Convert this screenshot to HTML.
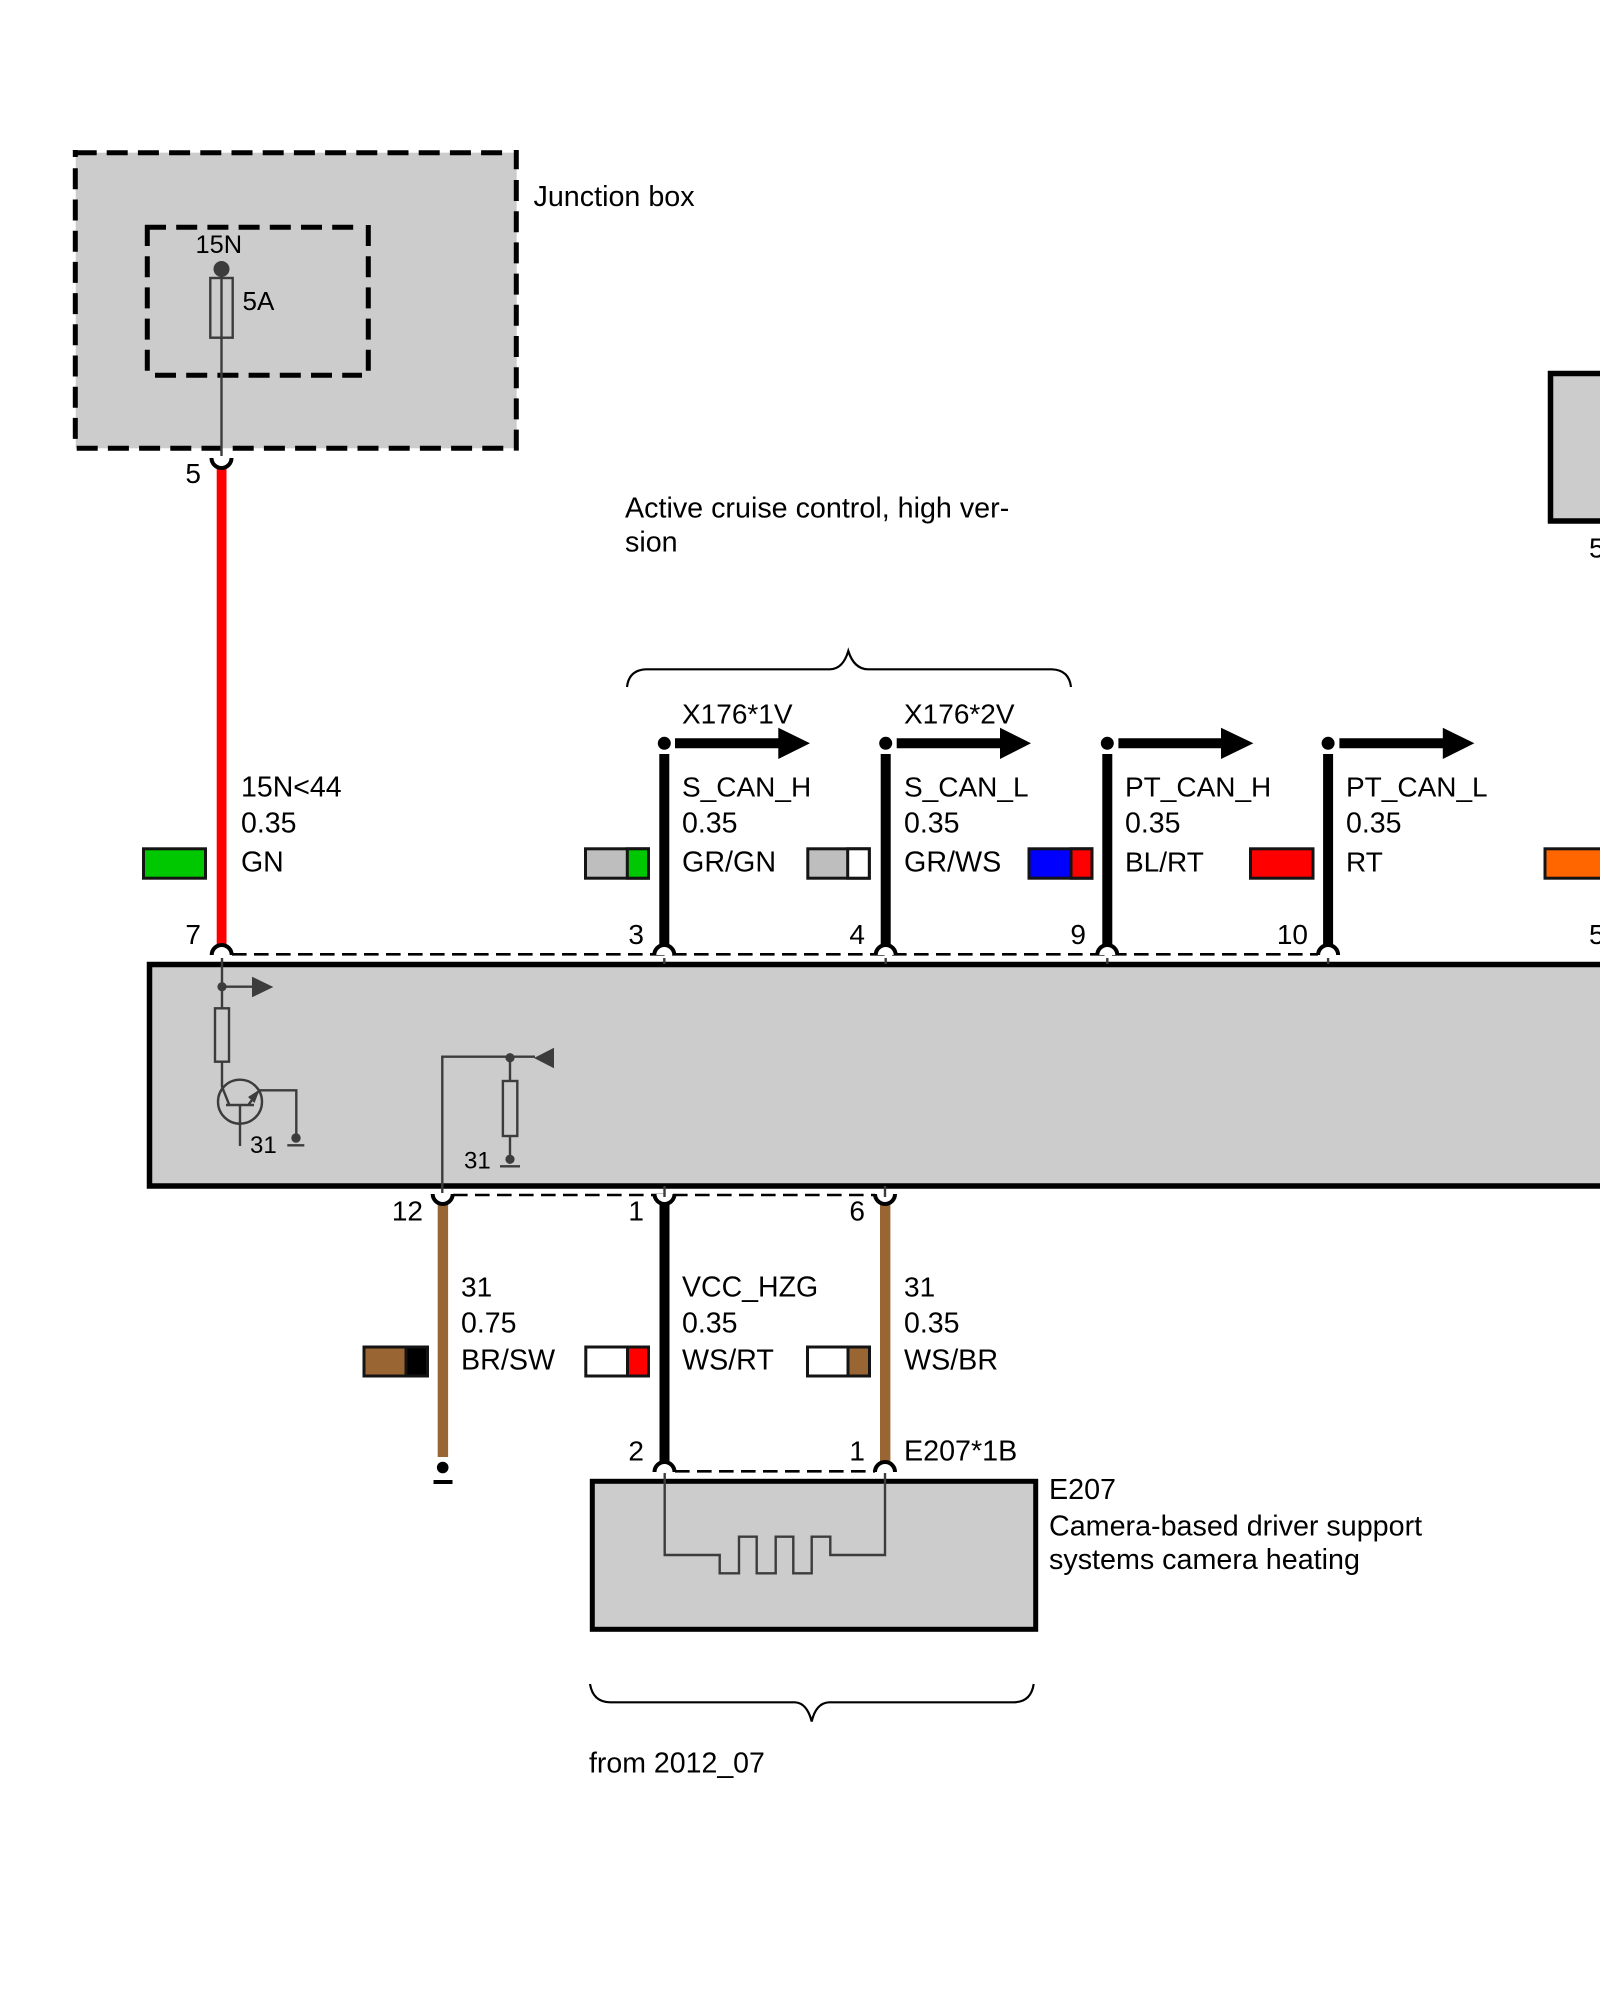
<!DOCTYPE html>
<html><head><meta charset="utf-8"><style>
html,body{margin:0;padding:0;background:#fff;width:1600px;height:2000px;overflow:hidden}
svg{display:block}
text{font-family:"Liberation Sans",sans-serif;font-size:28.5px;fill:#000}
.c{font-size:28px}
.l{font-size:28.7px}
.d{stroke:#3c3c3c;stroke-width:2.4;fill:none}
.dd{fill:#3c3c3c}
.k{stroke:#000;fill:none}
.sw{stroke:#141414;stroke-width:3}
.j{stroke:#000;stroke-width:5;fill:none;stroke-dasharray:21 10.2}
</style></head><body>
<svg width="1600" height="2000" viewBox="0 0 1600 2000" xmlns="http://www.w3.org/2000/svg">
<!-- boxes -->
<rect x="75.7" y="152.7" width="441" height="295.6" fill="#ccc"/>
<rect x="149.5" y="964.5" width="1470" height="221.5" fill="#ccc" stroke="#000" stroke-width="5.5"/>
<rect x="1550.5" y="373.5" width="70" height="147.5" fill="#ccc" stroke="#000" stroke-width="5.5"/>
<rect x="592.3" y="1481.3" width="443.4" height="148" fill="#ccc" stroke="#000" stroke-width="5"/>
<!-- junction box dashes -->
<path d="M75.3 157V150M72.8 152.7H96.7M516.3 150V169.3" stroke="#000" stroke-width="5" fill="none"/>
<path class="j" d="M106.7 152.7H503"/>
<path class="j" d="M75.3 168.3V439"/>
<path class="j" d="M76.7 448.3H504"/>
<path class="j" d="M516.3 180V451"/>
<path class="j" d="M145 227.3H357"/>
<path class="j" d="M147.3 225V372"/>
<path class="j" d="M155 375.3H362"/>
<path class="j" d="M368.3 225V371"/>
<!-- fuse -->
<path class="d" d="M221.5 269V456"/>
<circle class="dd" cx="221.5" cy="269" r="8"/>
<rect class="d" x="210.3" y="278" width="22.4" height="59.7"/>
<!-- wires -->
<rect x="216.7" y="465" width="9.8" height="482" fill="#f00"/>
<rect x="659.3" y="754" width="10" height="194" fill="#000"/>
<rect x="880.7" y="754" width="10" height="194" fill="#000"/>
<rect x="1102.3" y="754" width="10" height="194" fill="#000"/>
<rect x="1323.1" y="754" width="10" height="194" fill="#000"/>
<rect x="437.7" y="1202" width="10.4" height="255" fill="#996633"/>
<rect x="659.5" y="1202" width="10" height="262" fill="#000"/>
<rect x="880" y="1202" width="10.4" height="262" fill="#996633"/>
<!-- dashed connector lines -->
<path d="M232 954.3H1318" stroke="#000" stroke-width="2.6" fill="none" stroke-dasharray="14.6 7.4"/>
<path d="M453 1195H875" stroke="#000" stroke-width="2.6" fill="none" stroke-dasharray="14.6 7.4"/>
<path d="M675 1471.3H875" stroke="#000" stroke-width="2.6" fill="none" stroke-dasharray="14.6 7.4"/>
<!-- pin arcs -->
<g stroke="#000" stroke-width="4" fill="#fff">
<path d="M211.5 458A10 10 0 0 0 231.5 458"/>
<path d="M211.7 955A10 10 0 0 1 231.7 955"/>
<path d="M654.3 955A10 10 0 0 1 674.3 955"/>
<path d="M875.7 955A10 10 0 0 1 895.7 955"/>
<path d="M1097.3 955A10 10 0 0 1 1117.3 955"/>
<path d="M1318.1 955A10 10 0 0 1 1338.1 955"/>
<path d="M432.7 1194A10 10 0 0 0 452.7 1194"/>
<path d="M654.5 1194A10 10 0 0 0 674.5 1194"/>
<path d="M875 1194A10 10 0 0 0 895 1194"/>
<path d="M654.5 1472A10 10 0 0 1 674.5 1472"/>
<path d="M875 1472A10 10 0 0 1 895 1472"/>
</g>
<path class="d" d="M664.3 958V964M885.7 958V964M1107.3 958V964M1328.1 958V964M664.5 1186V1197M885 1186V1197"/>
<!-- arrows -->
<g fill="#000">
<circle cx="664.3" cy="743.3" r="6.5"/><path d="M675 738.3H778.3V727.7L810 743.3L778.3 759V748.3H675Z"/>
<circle cx="885.7" cy="743.3" r="6.5"/><path d="M896.7 738.3H1000V727.7L1031 743.3L1000 759V748.3H896.7Z"/>
<circle cx="1107.3" cy="743.3" r="6.5"/><path d="M1118.4 738.3H1221V727.7L1253.4 743.3L1221 759V748.3H1118.4Z"/>
<circle cx="1328.1" cy="743.3" r="6.5"/><path d="M1339.4 738.3H1442.8V727.7L1474.4 743.3L1442.8 759V748.3H1339.4Z"/>
<circle cx="442.7" cy="1467.5" r="5.8"/>
<rect x="433.5" y="1480" width="19" height="4"/>
</g>
<!-- braces -->
<path class="k" stroke-width="2.2" d="M627 687Q629 670 646 669.3H830Q843 669 848.3 651Q854 669 868 669.3H1052Q1069 670 1071 687"/>
<path class="k" stroke-width="2.2" d="M590 1684Q593 1702 610 1702.3H795Q807 1703 811.7 1721.5Q816 1703 829 1702.3H1014Q1031 1702 1033.7 1684"/>
<!-- internal circuit main box -->
<path class="d" d="M222 958V1008.3M222 986.7H253M222 1061.7V1086.7L229.3 1105"/>
<circle class="dd" cx="222" cy="986.7" r="4.6"/>
<path class="dd" d="M252 976.7L273.3 987L252 997.3Z"/>
<rect class="d" x="215" y="1008.3" width="14" height="53.4"/>
<circle class="d" cx="240" cy="1101.7" r="22"/>
<path class="d" d="M226 1105H254M240 1105V1146M248.3 1105L259.3 1090M259 1090.3H296.3V1134"/>
<path class="dd" d="M259.8 1089.5L254.5 1103L248 1097Z"/>
<circle class="dd" cx="296" cy="1138" r="4.7"/>
<path class="d" d="M287.3 1145.3H304.3"/>
<path class="d" d="M442.3 1193V1056.7H535M510 1057V1081M510 1136V1156"/>
<path class="dd" d="M534 1058L554 1047.7V1068.3Z"/>
<circle class="dd" cx="510" cy="1057.7" r="4.6"/>
<rect class="d" x="502.9" y="1081" width="14.4" height="55"/>
<circle class="dd" cx="510" cy="1159.3" r="4.6"/>
<path class="d" d="M500 1166.3H520"/>
<!-- E207 heater -->
<path class="d" d="M664.7 1473V1555H719.7V1573.3H739V1536.7H756.7V1573.3H775.7V1536.7H793.3V1573.3H811.7V1536.7H830.3V1555H885V1473"/>
<!-- swatches -->
<g class="sw">
<rect x="143.5" y="848.8" width="62" height="29.4" fill="#00c800"/>
<rect x="585.5" y="848.8" width="63" height="29.4" fill="#bebebe"/><rect x="627.3" y="848.8" width="21.2" height="29.4" fill="#00c800"/>
<rect x="807.8" y="848.8" width="61.5" height="29.4" fill="#bebebe"/><rect x="847.7" y="848.8" width="21.6" height="29.4" fill="#fff"/>
<rect x="1029" y="848.8" width="63" height="29.4" fill="#0000ff"/><rect x="1071" y="848.8" width="21" height="29.4" fill="#f00"/>
<rect x="1250.5" y="848.8" width="62.5" height="29.4" fill="#f00"/>
<rect x="1545" y="848.8" width="80" height="29.4" fill="#ff6600"/>
<rect x="364" y="1347" width="63.5" height="29" fill="#996633"/><rect x="406" y="1347" width="21.5" height="29" fill="#000"/>
<rect x="585.8" y="1347" width="62.7" height="29" fill="#fff"/><rect x="627.5" y="1347" width="21" height="29" fill="#f00"/>
<rect x="807.5" y="1347" width="62" height="29" fill="#fff"/><rect x="848" y="1347" width="21.5" height="29" fill="#996633"/>
</g>
<!-- text -->
<text class="l" x="533.5" y="206">Junction box</text>
<text x="195.5" y="253" style="font-size:25.4px">15N</text>
<text x="242.5" y="310" style="font-size:26px">5A</text>
<text class="l" x="625" y="517.5">Active cruise control, high ver-</text>
<text class="l" x="625" y="551.5">sion</text>
<text class="c" x="682" y="723.3">X176*1V</text>
<text class="c" x="904" y="723.3">X176*2V</text>
<text x="241" y="796.7">15N&lt;44</text><text x="241" y="832.7">0.35</text><text x="241" y="871.7">GN</text>
<text class="c" x="682" y="796.7">S_CAN_H</text><text x="682" y="832.7">0.35</text><text class="l" x="682" y="871.7">GR/GN</text>
<text class="c" x="904" y="796.7">S_CAN_L</text><text x="904" y="832.7">0.35</text><text class="l" x="904" y="871.7">GR/WS</text>
<text class="c" x="1125" y="796.7">PT_CAN_H</text><text x="1125" y="832.7">0.35</text><text class="c" x="1125" y="871.7">BL/RT</text>
<text class="c" x="1346" y="796.7">PT_CAN_L</text><text x="1346" y="832.7">0.35</text><text class="c" x="1346" y="871.7">RT</text>
<g text-anchor="end" class="c">
<text class="c" x="201" y="483">5</text>
<text class="c" x="201" y="944">7</text>
<text class="c" x="644" y="944">3</text>
<text class="c" x="865" y="944">4</text>
<text class="c" x="1086" y="944">9</text>
<text class="c" x="1308" y="944">10</text>
<text class="c" x="423" y="1220.7">12</text>
<text class="c" x="644" y="1220.7">1</text>
<text class="c" x="865" y="1220.7">6</text>
<text class="c" x="644" y="1460.7">2</text>
<text class="c" x="865" y="1460.7">1</text>
</g>
<text class="c" x="1589" y="557.6">5</text>
<text class="c" x="1589" y="944">5</text>
<text x="250" y="1153" style="font-size:24px">31</text>
<text x="464" y="1168.3" style="font-size:24px">31</text>
<text class="c" x="461" y="1296.7">31</text><text x="461" y="1332.7">0.75</text><text class="l" x="461" y="1369.3">BR/SW</text>
<text x="682" y="1296.7">VCC_HZG</text><text x="682" y="1332.7">0.35</text><text class="l" x="682" y="1369.3">WS/RT</text>
<text class="c" x="904" y="1296.7">31</text><text x="904" y="1332.7">0.35</text><text class="l" x="904" y="1369.3">WS/BR</text>
<text class="l" x="904" y="1460.7">E207*1B</text>
<text class="l" x="1049" y="1499">E207</text>
<text class="l" x="1049" y="1535.7">Camera-based driver support</text>
<text class="l" x="1049" y="1569">systems camera heating</text>
<text x="589" y="1772.7">from 2012_07</text>
</svg>
</body></html>
